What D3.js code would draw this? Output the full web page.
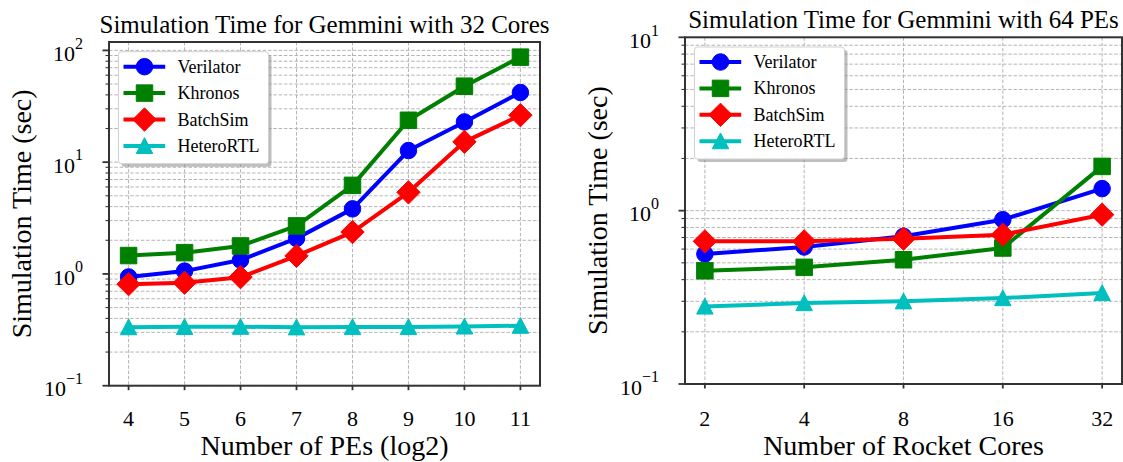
<!DOCTYPE html>
<html>
<head>
<meta charset="utf-8">
<script src="https://cdn.jsdelivr.net/npm/d3@7"></script>
<style>
  html, body { margin: 0; padding: 0; background: #fff; }
  svg { display: block; }
  text { font-family: "Liberation Serif", "Times New Roman", Times, serif; fill: #000; }
</style>
</head>
<body>
<div id="chart"></div>
<script>
// ---------------- data ----------------
const seriesNames = ["Verilator", "Khronos", "BatchSim", "HeteroRTL"];
const seriesColors = ["#0000ff", "#008000", "#ff0000", "#00bfbf"];
const seriesShapes = ["circle", "square", "diamond", "triangle"];

// Left panel: Gemmini with 32 cores, x = number of PEs (log2)
const leftPEs = [4, 5, 6, 7, 8, 9, 10, 11];
const leftVerilator = [0.94, 1.06, 1.33, 2.08, 3.82, 12.7, 22.9, 42.0];
const leftKhronos   = [1.46, 1.55, 1.78, 2.69, 6.2, 23.7, 47.8, 87.0];
const leftBatchSim  = [0.81, 0.835, 0.935, 1.45, 2.37, 5.37, 15.2, 26.3];
const leftHeteroRTL = [0.334, 0.336, 0.337, 0.333, 0.335, 0.335, 0.339, 0.344];
const leftYTicks = [0.1, 1, 10, 100];
const leftYTickExp = ["\u22121", "0", "1", "2"];

// Right panel: Gemmini with 64 PEs, x = number of rocket cores
const rightCores = [2, 4, 8, 16, 32];
const rightVerilator = [0.562, 0.617, 0.711, 0.887, 1.34];
const rightKhronos   = [0.45, 0.471, 0.521, 0.609, 1.80];
const rightBatchSim  = [0.665, 0.665, 0.689, 0.727, 0.948];
const rightHeteroRTL = [0.280, 0.293, 0.300, 0.313, 0.335];
const rightYTicks = [0.1, 1, 10];
const rightYTickExp = ["\u22121", "0", "1"];

const leftTitle = "Simulation Time for Gemmini with 32 Cores";
const rightTitle = "Simulation Time for Gemmini with 64 PEs";
const leftXLabel = "Number of PEs (log2)";
const rightXLabel = "Number of Rocket Cores";
const yLabel = "Simulation Time (sec)";

// ---------------- drawing ----------------
const W = 1123, H = 462;
const svg = d3.select("#chart").append("svg").attr("width", W).attr("height", H);

const FRAME = "#333333";
const GRID = "#b5b5b5";

function markerPath(shape, s) {
  const h = s / 2;
  if (shape === "square") return `M${-h},${-h}H${h}V${h}H${-h}Z`;
  if (shape === "diamond") { const d = h * Math.SQRT2; return `M0,${-d}L${d},0L0,${d}L${-d},0Z`; }
  if (shape === "triangle") return `M0,${-h}L${h},${h * 0.92}L${-h},${h * 0.92}Z`;
  return d3.symbol(d3.symbolCircle, Math.PI * h * h)();
}

function panel(o) {
  const g = svg.append("g");
  const x = o.x, y = o.y;
  const L = o.left, R = o.right, T = o.top, B = o.bottom;

  // minor ticks
  const minors = [];
  const lo = Math.floor(Math.log10(y.domain()[0])), hi = Math.ceil(Math.log10(y.domain()[1]));
  for (let e = lo; e < hi; e++) for (let k = 2; k <= 9; k++) {
    const v = k * Math.pow(10, e);
    if (v >= y.domain()[0] && v <= y.domain()[1]) minors.push(v);
  }

  // grid
  const grid = g.append("g").attr("stroke", GRID).attr("stroke-width", 1).attr("stroke-dasharray", "3.5,1.8").attr("fill", "none");
  grid.selectAll("line.gx").data(o.xTicks).join("line")
    .attr("x1", d => x(d)).attr("x2", d => x(d)).attr("y1", T).attr("y2", B);
  grid.selectAll("line.gy").data(minors.concat(o.yTicks)).join("line")
    .attr("x1", L).attr("x2", R).attr("y1", d => y(d)).attr("y2", d => y(d));

  // series
  const line = d3.line().x(d => x(d[0])).y(d => y(d[1]));
  o.series.forEach((vals, i) => {
    const pts = o.xTicks.map((xv, j) => [xv, vals[j]]);
    g.append("path").attr("d", line(pts)).attr("fill", "none")
      .attr("stroke", seriesColors[i]).attr("stroke-width", 4)
      .attr("stroke-linejoin", "round").attr("stroke-linecap", "butt");
    g.selectAll(null).data(pts).join("path")
      .attr("transform", d => `translate(${x(d[0])},${y(d[1])})`)
      .attr("d", markerPath(seriesShapes[i], 16.5))
      .attr("fill", seriesColors[i]).attr("stroke", seriesColors[i]).attr("stroke-width", 1);
  });

  // frame
  g.append("rect").attr("x", L).attr("y", T).attr("width", R - L).attr("height", B - T)
    .attr("fill", "none").attr("stroke", FRAME).attr("stroke-width", 2);

  // ticks
  g.selectAll("line.ymaj").data(o.yTicks).join("line")
    .attr("x1", L - 6.5).attr("x2", L).attr("y1", d => y(d)).attr("y2", d => y(d))
    .attr("stroke", FRAME).attr("stroke-width", 1.8);
  g.selectAll("line.ymin").data(minors).join("line")
    .attr("x1", L - 3.5).attr("x2", L).attr("y1", d => y(d)).attr("y2", d => y(d))
    .attr("stroke", FRAME).attr("stroke-width", 1.1);
  g.selectAll("line.xt").data(o.xTicks).join("line")
    .attr("x1", d => x(d)).attr("x2", d => x(d)).attr("y1", B).attr("y2", B + 4.5)
    .attr("stroke", FRAME).attr("stroke-width", 1.8);

  // tick labels
  g.selectAll("text.xl").data(o.xTicks).join("text")
    .attr("x", d => x(d)).attr("y", 426).attr("text-anchor", "middle")
    .attr("font-size", 22).text(d => String(d));
  o.yTicks.forEach((v, i) => {
    const t = g.append("text").attr("x", L - 26).attr("y", y(v) + 10.7)
      .attr("text-anchor", "end").attr("font-size", 22);
    t.append("tspan").text("10");
    t.append("tspan").attr("font-size", 16).attr("dy", -12.4).text(o.yExp[i]);
  });

  // labels
  g.append("text").attr("x", (L + R) / 2).attr("y", T - 9).attr("text-anchor", "middle")
    .attr("font-size", 25).text(o.title);
  g.append("text").attr("x", (L + R) / 2).attr("y", 455).attr("text-anchor", "middle")
    .attr("font-size", 28).text(o.xlabel);
  g.append("text").attr("transform", `translate(${L - 78},${(T + B) / 2}) rotate(-90)`)
    .attr("text-anchor", "middle").attr("font-size", 28).text(yLabel);

  // legend
  const lx = L + 9.5, ly = T + 9.7, lw = 150, lh = 112;
  g.append("rect").attr("x", lx + 3).attr("y", ly + 3).attr("width", lw).attr("height", lh)
    .attr("rx", 3).attr("fill", "#888").attr("opacity", 0.55);
  g.append("rect").attr("x", lx).attr("y", ly).attr("width", lw).attr("height", lh)
    .attr("rx", 3).attr("fill", "#fff").attr("stroke", "#d0d0d0").attr("stroke-width", 1);
  seriesNames.forEach((name, i) => {
    const cy = ly + 15 + i * 26.4;
    g.append("line").attr("x1", lx + 5).attr("x2", lx + 46.7).attr("y1", cy).attr("y2", cy)
      .attr("stroke", seriesColors[i]).attr("stroke-width", 4);
    g.append("path").attr("transform", `translate(${lx + 26},${cy})`)
      .attr("d", markerPath(seriesShapes[i], 16.5))
      .attr("fill", seriesColors[i]).attr("stroke", seriesColors[i]).attr("stroke-width", 1);
    g.append("text").attr("x", lx + 59).attr("y", cy + 6).attr("font-size", 18).text(name);
  });
}

panel({
  left: 109, right: 540, top: 42, bottom: 385.7,
  x: d3.scaleLinear().domain([3.65, 11.35]).range([109, 540]),
  y: d3.scaleLog().domain([0.1, Math.pow(10, 2.075)]).range([385.7, 42]),
  xTicks: leftPEs, yTicks: leftYTicks, yExp: leftYTickExp,
  series: [leftVerilator, leftKhronos, leftBatchSim, leftHeteroRTL],
  title: leftTitle, xlabel: leftXLabel
});

panel({
  left: 685, right: 1122, top: 37.3, bottom: 384,
  x: d3.scaleLog().base(2).domain([Math.pow(2, 0.8), Math.pow(2, 5.2)]).range([685, 1122]),
  y: d3.scaleLog().domain([0.1, 10]).range([384, 37.3]),
  xTicks: rightCores, yTicks: rightYTicks, yExp: rightYTickExp,
  series: [rightVerilator, rightKhronos, rightBatchSim, rightHeteroRTL],
  title: rightTitle, xlabel: rightXLabel
});
</script>
</body>
</html>
